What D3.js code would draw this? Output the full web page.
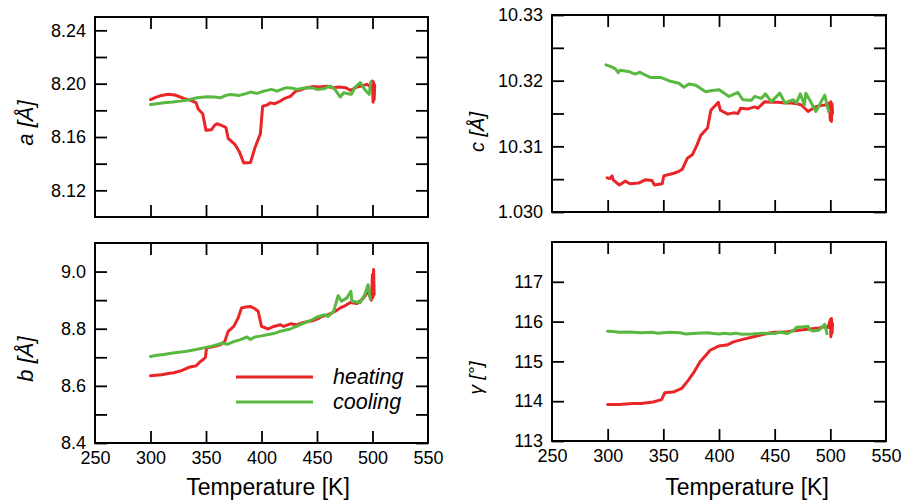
<!DOCTYPE html>
<html>
<head>
<meta charset="utf-8">
<script src="https://cdn.jsdelivr.net/npm/d3@7/dist/d3.min.js"></script>
<style>
  html, body { margin: 0; padding: 0; background: #fff; }
  svg { display: block; font-family: "Liberation Sans", Arial, Helvetica, sans-serif; }
  .tick text { font-size: 18px; fill: #000; }
  .tick line { stroke: #000; stroke-width: 1.8px; }
</style>
</head>
<body>
<svg id="chart" width="903" height="500"></svg>
<script>
// ---- Temperature axis ----
const tempTicks = [250, 300, 350, 400, 450, 500, 550];
const tempInnerTicks = [300, 350, 400, 450, 500];

// ---- Lattice parameter a [Å] ----
const aHeatT = [300, 304, 310, 316, 322, 330, 336, 341, 343, 347, 350, 355, 358, 360, 366, 368, 370, 376, 380, 384, 390, 394, 399, 401, 405, 408, 412, 416, 421, 426, 431, 436, 441, 446, 452, 459, 464, 470, 476, 480, 486, 491, 495, 499, 500, 500.5, 501, 501.5, 502];
const aHeat  = [8.1880, 8.1895, 8.1912, 8.1920, 8.1915, 8.1890, 8.1875, 8.1858, 8.1810, 8.1775, 8.1650, 8.1655, 8.1690, 8.1700, 8.1680, 8.1670, 8.1590, 8.1545, 8.1490, 8.1405, 8.1408, 8.1517, 8.1625, 8.1830, 8.1840, 8.1856, 8.1850, 8.1865, 8.1890, 8.1905, 8.1945, 8.1955, 8.1970, 8.1978, 8.1975, 8.1980, 8.1970, 8.1975, 8.1970, 8.1950, 8.1975, 8.1985, 8.1995, 8.1970, 8.2020, 8.1860, 8.2010, 8.1880, 8.1990];
const aCoolT = [300, 306, 312, 320, 327, 335, 342, 351, 357, 363, 368, 372, 380, 386, 390, 396, 402, 409, 414, 418, 423, 428, 432, 437, 441, 446, 450, 456, 462, 466, 471, 474, 478, 481, 484, 489, 493, 497, 498.5];
const aCool  = [8.1844, 8.1850, 8.1857, 8.1862, 8.1869, 8.1880, 8.1894, 8.1902, 8.1900, 8.1894, 8.1912, 8.1919, 8.1912, 8.1925, 8.1937, 8.1927, 8.1944, 8.1957, 8.1944, 8.1958, 8.1970, 8.1966, 8.1957, 8.1965, 8.1970, 8.1968, 8.1957, 8.1962, 8.1982, 8.1957, 8.1900, 8.1932, 8.1925, 8.1920, 8.1970, 8.2008, 8.1957, 8.1920, 8.2012];
const aTicks = [8.12, 8.14, 8.16, 8.18, 8.20, 8.22, 8.24];
const aTickLabels = ["8.12", "", "8.16", "", "8.20", "", "8.24"];

// ---- Lattice parameter b [Å] ----
const bHeatT = [300, 305, 310, 316, 321, 326, 330, 334, 338, 341, 344, 348, 349.5, 350.5, 356, 363, 367, 370, 375, 379, 382, 386, 390, 394, 397, 400, 406, 411, 417, 420, 426, 432, 438, 443, 447, 451, 454, 458, 462, 467, 471, 476, 480, 486, 492, 496, 499, 500, 500.5, 501, 501.5];
const bHeat  = [8.635, 8.637, 8.639, 8.643, 8.646, 8.651, 8.657, 8.664, 8.668, 8.670, 8.682, 8.694, 8.700, 8.733, 8.737, 8.744, 8.756, 8.791, 8.808, 8.838, 8.873, 8.876, 8.878, 8.870, 8.861, 8.808, 8.799, 8.808, 8.814, 8.808, 8.817, 8.814, 8.822, 8.826, 8.829, 8.835, 8.843, 8.846, 8.853, 8.862, 8.873, 8.882, 8.892, 8.888, 8.908, 8.931, 8.900, 8.990, 8.910, 9.007, 8.920];
const bCoolT = [300, 306, 312, 320, 329, 335, 341, 348, 355, 360, 365, 369, 375, 381, 387, 390, 394, 400, 405, 411, 416, 420, 426, 430, 435, 442, 446, 450, 457, 460, 465, 469, 472, 477, 480.5, 481.5, 489, 493, 496, 498];
const bCool  = [8.703, 8.707, 8.710, 8.715, 8.719, 8.723, 8.727, 8.733, 8.739, 8.744, 8.750, 8.745, 8.755, 8.762, 8.771, 8.762, 8.771, 8.775, 8.779, 8.783, 8.790, 8.794, 8.799, 8.806, 8.814, 8.826, 8.832, 8.841, 8.849, 8.843, 8.861, 8.916, 8.896, 8.908, 8.931, 8.896, 8.892, 8.919, 8.954, 8.904];
const bTicks = [8.4, 8.5, 8.6, 8.7, 8.8, 8.9, 9.0];
const bTickLabels = ["8.4", "", "8.6", "", "8.8", "", "9.0"];

// ---- Lattice parameter c [Å] ----
const cHeatT = [299.5, 302, 304, 305, 310.5, 315.7, 320, 327.7, 333.8, 339.8, 342, 349, 350.4, 355, 359.5, 364, 367, 371.6, 376, 380, 383.7, 389.7, 392.7, 399.4, 401.2, 407.9, 413, 417, 419.4, 426, 432, 435, 441, 447, 453, 459, 465, 470, 474, 480, 486.4, 491, 495.4, 499, 500, 500.5, 501, 501.5, 502];
const cHeat  = [10.3052, 10.3051, 10.3055, 10.3049, 10.3041, 10.3047, 10.3043, 10.3044, 10.3049, 10.3048, 10.3041, 10.3043, 10.3055, 10.3057, 10.3059, 10.3062, 10.3065, 10.3082, 10.3087, 10.3101, 10.3117, 10.3128, 10.3155, 10.3167, 10.3155, 10.3149, 10.3151, 10.3150, 10.3158, 10.3157, 10.3160, 10.3158, 10.3168, 10.3167, 10.3167, 10.3166, 10.3166, 10.3165, 10.3163, 10.3153, 10.3160, 10.3162, 10.3163, 10.3166, 10.3140, 10.3168, 10.3138, 10.3165, 10.3150];
const cCoolT = [298.5, 303.5, 307, 309.6, 311, 318.7, 324.7, 329, 330.7, 338.3, 347.4, 352, 356.5, 364, 368.5, 373, 379.2, 388, 394, 400.2, 409, 417, 421.4, 429, 432, 438, 441.7, 447, 454.7, 459.2, 466.7, 469.5, 473, 476.7, 478, 482.6, 487, 495, 498.5];
const cCool  = [10.3224, 10.3221, 10.3218, 10.3212, 10.3216, 10.3214, 10.3210, 10.3213, 10.3211, 10.3205, 10.3205, 10.3202, 10.3199, 10.3196, 10.3190, 10.3195, 10.3193, 10.3183, 10.3185, 10.3186, 10.3176, 10.3182, 10.3171, 10.3170, 10.3176, 10.3173, 10.3180, 10.3168, 10.3181, 10.3166, 10.3171, 10.3166, 10.3180, 10.3163, 10.3181, 10.3167, 10.3153, 10.3178, 10.3153];
const cTicks = [10.30, 10.305, 10.31, 10.315, 10.32, 10.325, 10.33];
const cTickLabels = ["1.030", "", "10.31", "", "10.32", "", "10.33"];

// ---- Angle gamma [°] ----
const gHeatT = [300, 310, 322.7, 330, 340.8, 348.4, 351.3, 358.9, 366.5, 372.5, 378, 383, 388, 392, 399.6, 407, 413, 422.2, 431.2, 440, 449.3, 455, 461.4, 467, 473.4, 480, 485.5, 490, 494.5, 498, 500, 500.5, 501, 501.5, 502];
const gHeat  = [113.92, 113.92, 113.94, 113.94, 113.98, 114.04, 114.21, 114.23, 114.32, 114.53, 114.75, 114.99, 115.15, 115.28, 115.385, 115.41, 115.49, 115.56, 115.62, 115.68, 115.73, 115.73, 115.745, 115.77, 115.79, 115.81, 115.83, 115.84, 115.87, 115.85, 116.05, 115.62, 116.08, 115.70, 115.95];
const gCoolT = [300, 305, 310, 320, 330, 340, 345, 355, 365, 370, 380, 390, 395, 400, 405, 410, 415, 420, 430, 440, 450, 455, 461, 466, 470, 476, 480, 481, 485, 490, 495, 497];
const gCool  = [115.76, 115.75, 115.73, 115.74, 115.72, 115.73, 115.71, 115.73, 115.72, 115.69, 115.71, 115.72, 115.70, 115.69, 115.71, 115.69, 115.71, 115.68, 115.69, 115.71, 115.70, 115.74, 115.70, 115.76, 115.86, 115.87, 115.88, 115.80, 115.76, 115.79, 115.93, 115.70];
const gTicks = [113, 114, 115, 116, 117];
const gTickLabels = ["113", "114", "115", "116", "117"];

const seriesNames = ["heating", "cooling"];
const seriesColors = ["#ea2528", "#58b83f"];

const svg = d3.select("#chart");

function zip(ts, vs) { return ts.map((t, i) => ({ t: t, v: vs[i] })); }

function drawPanel(p) {
  const x = d3.scaleLinear().domain([250, 550]).range([p.left, p.right]);
  const y = d3.scaleLinear().domain(p.yDomain).range([p.bottom, p.top]);
  const g = svg.append("g");

  // inward ticks on all four sides
  const yLeft = d3.axisLeft(y).tickValues(p.yTicks).tickSize(-12).tickPadding(9)
    .tickFormat((d, i) => p.yLabels[i]);
  g.append("g").attr("transform", `translate(${p.left},0)`).call(yLeft)
    .call(s => s.select(".domain").remove());
  const yRight = d3.axisRight(y).tickValues(p.yTicks).tickSize(-12).tickFormat("");
  g.append("g").attr("transform", `translate(${p.right},0)`).call(yRight)
    .call(s => s.select(".domain").remove());

  const xTop = d3.axisTop(x).tickValues(tempInnerTicks).tickSize(-12).tickFormat("");
  g.append("g").attr("transform", `translate(0,${p.top})`).call(xTop)
    .call(s => s.select(".domain").remove());
  const xBottom = d3.axisBottom(x)
    .tickValues(p.showX ? tempTicks : tempInnerTicks)
    .tickSize(-12).tickPadding(8)
    .tickFormat(p.showX ? d3.format("d") : "");
  g.append("g").attr("transform", `translate(0,${p.bottom})`).call(xBottom)
    .call(s => s.select(".domain").remove())
    .call(s => s.selectAll(".tick").filter(d => d === 250 || d === 550).select("line").remove());

  // data lines
  const line = d3.line().x(d => x(d.t)).y(d => y(d.v));
  p.series.forEach((s, i) => {
    g.append("path").datum(s).attr("d", line)
      .attr("fill", "none").attr("stroke", seriesColors[i])
      .attr("stroke-width", 3).attr("stroke-linejoin", "round").attr("stroke-linecap", "round");
  });

  // frame
  g.append("rect").attr("x", p.left).attr("y", p.top)
    .attr("width", p.right - p.left).attr("height", p.bottom - p.top)
    .attr("fill", "none").attr("stroke", "#000").attr("stroke-width", 2);

  // y title
  g.append("text")
    .attr("transform", `translate(${p.yTitleX},${p.yTitleY}) rotate(-90)`)
    .attr("text-anchor", "middle").attr("font-style", "italic")
    .attr("font-size", p.yTitleSize).attr("fill", "#000")
    .text(p.yTitle);

  if (p.showX) {
    g.append("text").attr("x", p.xTitleX).attr("y", 495)
      .attr("text-anchor", "middle").attr("font-size", 23).attr("fill", "#000")
      .text("Temperature [K]");
  }
}

drawPanel({
  left: 95, right: 428, top: 17, bottom: 217,
  yDomain: [8.10, 8.25], yTicks: aTicks, yLabels: aTickLabels,
  series: [zip(aHeatT, aHeat), zip(aCoolT, aCool)],
  yTitle: "a [Å]", yTitleX: 33, yTitleY: 123, yTitleSize: 22, showX: false
});
drawPanel({
  left: 552, right: 886, top: 15, bottom: 212,
  yDomain: [10.30, 10.33], yTicks: cTicks, yLabels: cTickLabels,
  series: [zip(cHeatT, cHeat), zip(cCoolT, cCool)],
  yTitle: "c [Å]", yTitleX: 484, yTitleY: 132, yTitleSize: 20, showX: false
});
drawPanel({
  left: 95, right: 428, top: 243, bottom: 443,
  yDomain: [8.4, 9.1], yTicks: bTicks, yLabels: bTickLabels,
  series: [zip(bHeatT, bHeat), zip(bCoolT, bCool)],
  yTitle: "b [Å]", yTitleX: 33, yTitleY: 359, yTitleSize: 22, showX: true, xTitleX: 268
});
drawPanel({
  left: 552, right: 886, top: 242, bottom: 441,
  yDomain: [113, 118], yTicks: gTicks, yLabels: gTickLabels,
  series: [zip(gHeatT, gHeat), zip(gCoolT, gCool)],
  yTitle: "γ [°]", yTitleX: 482, yTitleY: 378, yTitleSize: 19, showX: true, xTitleX: 747
});

// legend inside the b panel
const legend = svg.append("g");
seriesNames.forEach((name, i) => {
  const yy = 377 + i * 25;
  legend.append("line").attr("x1", 236).attr("x2", 313).attr("y1", yy).attr("y2", yy)
    .attr("stroke", seriesColors[i]).attr("stroke-width", 3);
  legend.append("text").attr("x", 333).attr("y", yy + 7)
    .attr("font-size", 21.5).attr("font-style", "italic").attr("fill", "#000").text(name);
});
</script>
</body>
</html>
